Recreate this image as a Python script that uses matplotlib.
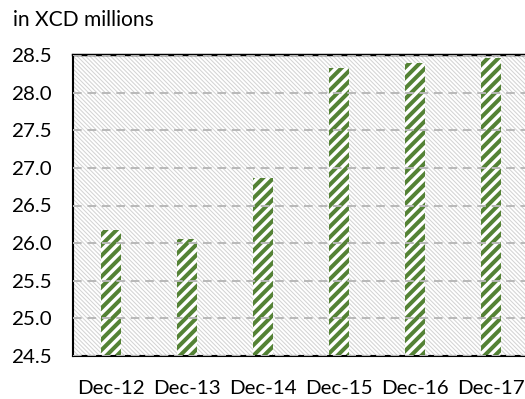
import matplotlib
matplotlib.use("Agg")
import matplotlib.pyplot as plt
from matplotlib.patches import Rectangle

# Values shown in the chart (XCD millions)
categories = ["Dec-12", "Dec-13", "Dec-14", "Dec-15", "Dec-16", "Dec-17"]
values = [26.17, 26.05, 26.86, 28.33, 28.40, 28.46]
y_ticks = [24.5, 25.0, 25.5, 26.0, 26.5, 27.0, 27.5, 28.0, 28.5]
y_tick_labels = ["24.5", "25.0", "25.5", "26.0", "26.5", "27.0", "27.5", "28.0", "28.5"]
unit_label = "in XCD millions"

DPI = 126
BAR_GREEN = "#548235"
BG_HATCH = "#d4d4d4"
GRID_GREY = "#b8b8b8"

plt.rcParams["font.family"] = ["Lato", "DejaVu Sans"]

fig = plt.figure(figsize=(525 / DPI, 399 / DPI), dpi=DPI)
ax = fig.add_axes([73 / 525, 1 - 356 / 399, 456 / 525, (356 - 55) / 399])

x = list(range(len(categories)))

# Hatched plot-area background
with plt.rc_context({"hatch.linewidth": 0.6}):
    bg = Rectangle((0, 0), 1, 1, transform=ax.transAxes, facecolor="white",
                   edgecolor=BG_HATCH, linewidth=0, hatch="\\" * 10, zorder=0.1)
    if hasattr(bg, "set_hatch_linewidth"):
        bg.set_hatch_linewidth(0.6)
    ax.add_patch(bg)

# Striped bars
with plt.rc_context({"hatch.linewidth": 2.3}):
    bars = ax.bar(x, values, width=0.27, bottom=0, color="white",
                  edgecolor=BAR_GREEN, linewidth=0, hatch="////", zorder=2)
    for b in bars:
        if hasattr(b, "set_hatch_linewidth"):
            b.set_hatch_linewidth(2.3)

ax.set_xlim(-0.5, len(categories) - 0.5)
ax.set_ylim(24.5, 28.5)
ax.set_yticks(y_ticks)
ax.set_yticklabels(y_tick_labels)
ax.set_xticks(x)
ax.set_xticklabels(categories)
ax.tick_params(axis="both", length=0, labelsize=11.7, colors="black")
ax.tick_params(axis="y", pad=12)
ax.tick_params(axis="x", pad=14)

# Dashed horizontal gridlines
ax.yaxis.grid(True, linestyle=(0, (4.5, 3)), color=GRID_GREY, linewidth=1.1, zorder=1)
ax.set_axisbelow(False)
for gl in ax.get_ygridlines():
    gl.set_zorder(1)

ax.set_facecolor("white")
for side in ["left", "bottom", "top"]:
    ax.spines[side].set_color("black")
    ax.spines[side].set_linewidth(1.2)
ax.spines["top"].set_linewidth(1.4)
ax.spines["right"].set_visible(False)

fig.text(13 / 525, 1 - 20 / 399, unit_label, fontsize=12, va="center", ha="left")

fig.savefig("out.png", dpi=DPI)
